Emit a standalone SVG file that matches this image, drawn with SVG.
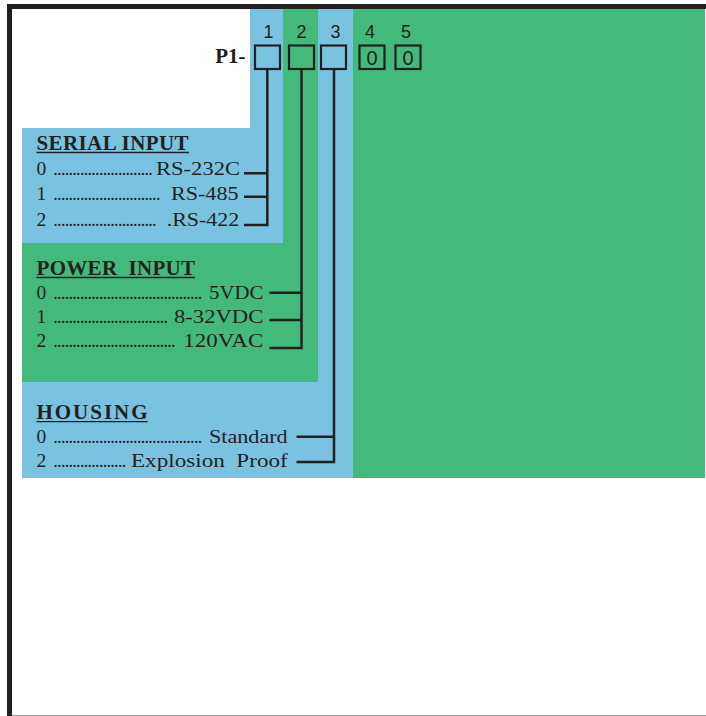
<svg xmlns="http://www.w3.org/2000/svg" width="706" height="716" viewBox="0 0 706 716">
<style>
.blue{fill:#79c3e1}
.green{fill:#43b97b}
.t{font-family:"Liberation Serif","Times New Roman",serif;fill:#231f20;font-size:19.5px}
.r{text-anchor:end}
.dt{font-family:"Liberation Serif","Times New Roman",serif;fill:#231f20;font-size:18px;letter-spacing:-0.7px}
.h{font-family:"Liberation Serif","Times New Roman",serif;fill:#231f20;font-size:21px;font-weight:bold;white-space:pre}
.d{font-family:"Liberation Sans",Arial,sans-serif;fill:#231f20;font-size:18px;text-anchor:middle}
.box{fill:none;stroke:#231f20;stroke-width:2.2}
.ln{fill:none;stroke:#231f20;stroke-width:2.5}
.ul{stroke:#231f20;stroke-width:1.3}
</style>
<rect x="0" y="0" width="706" height="716" fill="#ffffff"/>
<g id="background">
<rect class="green" x="353" y="9" width="352" height="469"/>
<rect class="blue" x="318" y="9" width="35" height="469"/>
<rect class="blue" x="22" y="382" width="331" height="96"/>
<rect class="green" x="283" y="9" width="35" height="373"/>
<rect class="green" x="22" y="242" width="296" height="140"/>
<rect class="blue" x="250" y="9" width="33" height="234"/>
<rect class="blue" x="22" y="128" width="261" height="115"/>
</g>
<g id="frame">
<rect x="7" y="4" width="699" height="5" fill="#231f20"/>
<rect x="7" y="4" width="5" height="712" fill="#231f20"/>
<line x1="12" y1="715.5" x2="706" y2="715.5" stroke="#9a9a9a" stroke-width="1"/>
</g>
<g id="header">
<text class="d" x="268.5" y="37.5">1</text>
<text class="d" x="301.5" y="37.5">2</text>
<text class="d" x="335.5" y="37.5">3</text>
<text class="d" x="370" y="37.5">4</text>
<text class="d" x="406" y="37.5">5</text>
<text x="245.5" y="63.3" text-anchor="end" style="font-family:'Liberation Serif','Times New Roman',serif;font-weight:bold;font-size:21px;fill:#231f20">P1-</text>
</g>
<g id="box1"><rect class="box" x="255" y="45.5" width="25" height="23.5"/></g>
<g id="box2"><rect class="box" x="289" y="45.5" width="25" height="23.5"/></g>
<g id="box3"><rect class="box" x="321" y="45.5" width="25" height="23.5"/></g>
<g id="box4"><rect class="box" x="359.5" y="45.5" width="25" height="23.5"/><text class="d" x="372" y="64.5" style="font-size:20px">0</text></g>
<g id="box5"><rect class="box" x="395.5" y="45.5" width="25" height="23.5"/><text class="d" x="408" y="64.5" style="font-size:20px">0</text></g>
<g id="serial">
<text class="h" x="36.5" y="150" textLength="152" lengthAdjust="spacing">SERIAL INPUT</text>
<line class="ul" x1="36.5" y1="152.5" x2="189" y2="152.5"/>
<text class="t" x="36.5" y="175">0</text>
<text class="dt" x="53.3" y="175">..........................</text>
<text class="t r" x="240" y="175" textLength="84" lengthAdjust="spacingAndGlyphs">RS-232C</text>
<text class="t" x="36.5" y="200">1</text>
<text class="dt" x="53.3" y="200">............................</text>
<text class="t r" x="238.5" y="200" textLength="67.5" lengthAdjust="spacingAndGlyphs">RS-485</text>
<text class="t" x="36.5" y="225.5">2</text>
<text class="dt" x="53.3" y="225.5">...........................</text>
<text class="t r" x="239.3" y="225.5" textLength="72.6" lengthAdjust="spacingAndGlyphs">.RS-422</text>
</g>
<g id="power">
<text class="h" x="36.5" y="275" textLength="158.5" lengthAdjust="spacing" xml:space="preserve">POWER  INPUT</text>
<line class="ul" x1="36.5" y1="277.5" x2="195" y2="277.5"/>
<text class="t" x="36.5" y="299.3">0</text>
<text class="dt" x="53.3" y="299.3">.......................................</text>
<text class="t r" x="263.3" y="299.3" textLength="54.3" lengthAdjust="spacingAndGlyphs">5VDC</text>
<text class="t" x="36.5" y="322.7">1</text>
<text class="dt" x="53.3" y="322.7">..............................</text>
<text class="t r" x="263.3" y="322.7" textLength="89.3" lengthAdjust="spacingAndGlyphs">8-32VDC</text>
<text class="t" x="36.5" y="347.3">2</text>
<text class="dt" x="53.3" y="347.3">................................</text>
<text class="t r" x="263.3" y="347.3" textLength="80" lengthAdjust="spacingAndGlyphs">120VAC</text>
</g>
<g id="housing">
<text class="h" x="36.5" y="419" textLength="111" lengthAdjust="spacing">HOUSING</text>
<line class="ul" x1="36.5" y1="421.7" x2="147.7" y2="421.7"/>
<text class="t" x="36.5" y="443.3">0</text>
<text class="dt" x="53.3" y="443.3">.......................................</text>
<text class="t r" x="287.7" y="443.3" textLength="78.7" lengthAdjust="spacingAndGlyphs">Standard</text>
<text class="t" x="36.5" y="467.3">2</text>
<text class="dt" x="53.3" y="467.3">...................</text>
<text class="t r" x="287.7" y="467.3" textLength="156.7" lengthAdjust="spacingAndGlyphs" xml:space="preserve" style="white-space:pre">Explosion  Proof</text>
</g>
<g id="connectors">
<path class="ln" d="M267.3 69 V225 H244 M244 173.3 H267.3 M244 196.7 H267.3"/>
<path class="ln" d="M301.5 69 V348 H269.5 M269.5 292.7 H301.5 M269.5 320 H301.5"/>
<path class="ln" d="M334 69 V462 H296.5 M296.5 436.7 H334"/>
</g>
</svg>
